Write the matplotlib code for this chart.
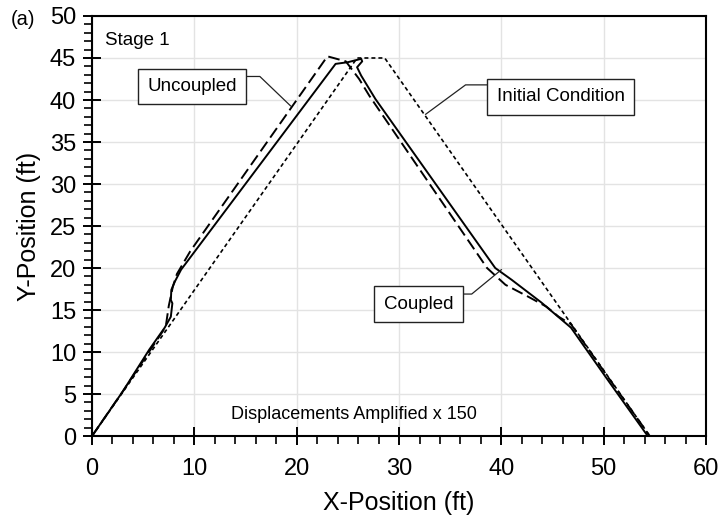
import matplotlib
matplotlib.use("Agg")
import matplotlib.pyplot as plt
from matplotlib.ticker import MultipleLocator

plt.rcParams['font.family'] = ['Liberation Sans', 'DejaVu Sans']

# initial slope geometry (short dashes)
initial_x = [0, 25.9, 28.6, 54.5]
initial_y = [0, 45.0, 45.0, 0]

# coupled analysis (solid)
coupled_x = [0, 3.0, 5.6, 7.1, 7.7, 7.85, 7.7, 7.75, 8.1, 8.7, 23.8,
             25.0, 26.3, 26.4, 25.9, 26.3, 26.9, 27.7, 39.4, 41.0,
             43.9, 46.8, 50.5, 54.3]
coupled_y = [0, 5.3, 10.3, 12.9, 14.2, 15.8, 16.2, 17.4, 18.4, 19.8, 44.3,
             44.5, 44.9, 44.6, 43.9, 42.9, 41.7, 40.1, 20, 18.6,
             15.9, 12.9, 6.5, 0]

# uncoupled analysis (long dashes)
uncoupled_x = [0, 3.0, 7.2, 7.5, 7.9, 8.3, 9.6, 23.0, 24.8, 26.1, 27.1,
               38.6, 40.4, 42.6, 44.4, 45.6, 46.8, 50.6, 54.5]
uncoupled_y = [0, 5.3, 13.0, 15.5, 17.8, 19.3, 22.0, 45.2, 44.6, 42.5, 40.5,
               20, 18.0, 16.6, 15.4, 14.2, 13.3, 6.7, 0]

# callouts: label, box centre, leader path
callouts = [
    ("Uncoupled", (9.8, 41.6), [(14.7, 42.8), (16.4, 42.8), (19.4, 39.3)]),
    ("Initial Condition", (45.8, 40.4), [(38.9, 41.8), (36.5, 41.8), (32.6, 38.3)]),
    ("Coupled", (31.9, 15.7), [(35.7, 16.9), (37.1, 16.9), (40.0, 19.8)]),
]

fig = plt.figure(figsize=(7.19, 5.16), dpi=100)
ax = fig.add_axes([0.128, 0.155, 0.854, 0.814])

ax.plot(initial_x, initial_y, color='black', lw=1.2, dashes=(2.4, 1.8))
ax.plot(uncoupled_x, uncoupled_y, color='black', lw=1.4, dashes=(6, 2.6))
ax.plot(coupled_x, coupled_y, color='black', lw=1.4)

for label, (tx, ty), path in callouts:
    ax.plot([p[0] for p in path], [p[1] for p in path], color='#222222', lw=0.9)
    ax.text(tx, ty, label, fontsize=13.5, ha='center', va='center',
            bbox=dict(boxstyle='square,pad=0.5', fc='white', ec='#222222', lw=1.0))

ax.text(1.27, 47.1, "Stage 1", fontsize=13.5, ha='left', va='center')
ax.text(25.6, 2.6, "Displacements Amplified x 150", fontsize=13, ha='center', va='center')
fig.text(0.015, 0.963, "(a)", fontsize=14.5, ha='left', va='center')

ax.set_xlim(0, 60)
ax.set_ylim(0, 50)
ax.xaxis.set_major_locator(MultipleLocator(10))
ax.xaxis.set_minor_locator(MultipleLocator(2))
ax.yaxis.set_major_locator(MultipleLocator(5))
ax.yaxis.set_minor_locator(MultipleLocator(1))
ax.grid(True, which='major', color='#e3e3e3', lw=1.0)
ax.set_axisbelow(True)

ax.tick_params(which='major', direction='inout', length=13, width=1.4, labelsize=17, pad=5)
ax.tick_params(axis='x', which='major', pad=9)
ax.tick_params(which='minor', direction='out', length=6, width=1.2)
ax.tick_params(top=False, right=False, which='both')
for s in ax.spines.values():
    s.set_linewidth(1.5)
    s.set_color('black')

ax.set_xlabel("X-Position (ft)", fontsize=18, labelpad=8)
ax.set_ylabel("Y-Position (ft)", fontsize=18, labelpad=6)

fig.savefig("out.png", dpi=100)
